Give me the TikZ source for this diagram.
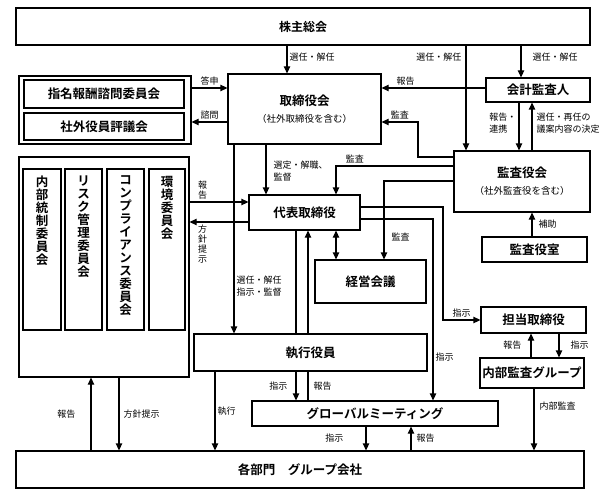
\documentclass[tikz,border=0pt]{standalone}
\usepackage{fontspec}
\setmainfont{Noto Sans CJK JP}[BoldFont={Noto Sans CJK JP Bold}]
\usetikzlibrary{arrows.meta}

\begin{document}
\begin{tikzpicture}[
            x=1pt, y=-1pt,
            box/.style={draw=black, line width=1.3pt, fill=white, inner sep=0pt, align=center, font=\fontsize{12.5}{14}\selectfont\bfseries},
            vtext/.style={inner sep=0pt, align=center, font=\fontsize{12.5}{13}\selectfont\bfseries},
            arr/.style={-{Triangle[length=7pt, width=6.5pt]}, line width=1.3pt},
            darr/.style={{Triangle[length=7pt, width=6.5pt]}-{Triangle[length=7pt, width=6.5pt]}, line width=1.3pt},
            ln/.style={line width=1.3pt},
            lbl/.style={inner sep=2pt, align=left, font=\fontsize{9}{12}\selectfont},
            vlbl/.style={inner sep=2pt, align=center, font=\fontsize{9}{10}\selectfont},
        ]
            \useasboundingbox (0,0) rectangle (606,495);
            \node[box, minimum width=574pt, minimum height=37pt] (kabu) at (303,26.5) {\fontsize{12}{14}\selectfont 株主総会};
            \node[box, minimum width=172pt, minimum height=68pt] (shimeiG) at (105,110) {};
            \node[box, minimum width=160pt, minimum height=28pt] (shimei) at (104,94) {指名報酬諮問委員会};
            \node[box, minimum width=160pt, minimum height=27pt] (shagai) at (104,126.5) {社外役員評議会};
            \node[box, minimum width=153pt, minimum height=70pt] (tori) at (304.5,109) {取締役会\\[3pt]{\fontsize{9.5}{11}\selectfont\mdseries （社外取締役を含む）}};
            \node[box, minimum width=104pt, minimum height=24pt] (kaikei) at (538,90) {会計監査人};
            \node[box, minimum width=136pt, minimum height=61pt] (kansa) at (522,181.5) {監査役会\\[3pt]{\fontsize{9.5}{11}\selectfont\mdseries （社外監査役を含む）}};
            \node[box, minimum width=105pt, minimum height=25pt] (shitsu) at (534.5,249.5) {監査役室};
            \node[box, minimum width=170pt, minimum height=220pt] (iin) at (104,267) {};
            \node[box, minimum width=38pt, minimum height=161pt] (naitou) at (42,249.5) {};
            \node[box, minimum width=37pt, minimum height=161pt] (risk) at (83.5,249.5) {};
            \node[box, minimum width=37pt, minimum height=161pt] (comp) at (125.5,249.5) {};
            \node[box, minimum width=36pt, minimum height=161pt] (kankyo) at (167,249.5) {};
            \node[vtext, anchor=north] (naitouT) at ([yshift=-7.5pt]naitou.north) {内\\部\\統\\制\\委\\員\\会};
            \node[vtext, anchor=north] (riskT) at ([yshift=-7.5pt]risk.north) {リ\\ス\\ク\\管\\理\\委\\員\\会};
            \node[vtext, anchor=north] (compT) at ([yshift=-7.5pt]comp.north) {コ\\ン\\プ\\ラ\\イ\\ア\\ン\\ス\\委\\員\\会};
            \node[vtext, anchor=north] (kankyoT) at ([yshift=-7.5pt]kankyo.north) {環\\境\\委\\員\\会};
            \node[box, minimum width=111pt, minimum height=35pt] (daihyo) at (304.5,212.5) {代表取締役};
            \node[box, minimum width=111pt, minimum height=43pt] (keiei) at (370.5,281.5) {経営会議};
            \node[box, minimum width=105pt, minimum height=26pt] (tanto) at (533.5,320) {担当取締役};
            \node[box, minimum width=233pt, minimum height=37pt] (shikko) at (310.5,352.5) {執行役員};
            \node[box, minimum width=104pt, minimum height=30pt] (naibu) at (532,373) {内部監査グループ};
            \node[box, minimum width=246pt, minimum height=25pt] (global) at (375,413.5) {グローバルミーティング};
            \node[box, minimum width=568pt, minimum height=37pt] (kakubu) at (300,469.5) {各部門　グループ会社};

            \coordinate (sTori) at (287,0);
            \coordinate (sKansa) at (466,0);
            \coordinate (sKaikei) at (521,0);
            \coordinate (kaikeiDn) at (519,0);
            \coordinate (kaikeiUp) at (532,0);
            \coordinate (toriShikko) at (234,0);
            \coordinate (toriDaihyo) at (266,0);
            \coordinate (daihyoKeiei) at (336,0);
            \coordinate (kansaKeiei) at (384,0);
            \coordinate (kansaTori) at (418,0);
            \coordinate (daihyoTanto) at (443,0);
            \coordinate (daihyoGlobal) at (433,0);
            \coordinate (shiji) at (296,0);
            \coordinate (hokoku) at (308,0);
            \coordinate (shikkoDn) at (215,0);
            \coordinate (iinDn) at (119,0);
            \coordinate (iinUp) at (91,0);
            \coordinate (globalDn) at (366,0);
            \coordinate (globalUp) at (411,0);
            \coordinate (naibuUp) at (531,0);
            \coordinate (tantoDn) at (559,0);
            \coordinate (naibuDn) at (534,0);
            \coordinate (rToshin) at (0,88);
            \coordinate (rShimon) at (0,122);
            \coordinate (rKansa1) at (0,157);
            \coordinate (rKansa2) at (0,166);
            \coordinate (rKansa3) at (0,181);
            \coordinate (rHokoku) at (0,202);
            \coordinate (rHoshin) at (0,222);
            \coordinate (rTanto) at (0,207);
            \coordinate (rGlobal) at (0,219);

            \draw[arr] (kabu.south -| sTori) -- node[lbl, right, pos=.41] {選任・解任} (tori.north -| sTori);
            \draw[arr] (kabu.south -| sKansa) -- node[lbl, left, pos=.11, xshift=-2pt] {選任・解任} (kansa.north -| sKansa);
            \draw[arr] (kabu.south -| sKaikei) -- node[lbl, right, pos=.36, xshift=9pt] {選任・解任} (kaikei.north -| sKaikei);
            \draw[arr] (kaikei.south -| kaikeiDn) -- node[lbl, left, pos=.43] {報告・\\連携} (kansa.north -| kaikeiDn);
            \draw[arr] (kansa.north -| kaikeiUp) -- node[lbl, right, pos=.57, xshift=2pt] {選任・再任の\\議案内容の決定} (kaikei.south -| kaikeiUp);
            \draw[arr] (shitsu.north -| kaikeiUp) -- node[lbl, right, xshift=4pt] {補助} (kansa.south -| kaikeiUp);
            \draw[arr] (kaikei.west |- rToshin) -- node[lbl, above, pos=.77] {報告} (tori.east |- rToshin);
            \draw[arr] (kansa.west |- rKansa1) -| (kansaTori |- rShimon) -- node[lbl, above] {監査} (tori.east |- rShimon);
            \draw[arr] (shimeiG.east |- rToshin) -- node[lbl, above] {答申} (tori.west |- rToshin);
            \draw[arr] (tori.west |- rShimon) -- node[lbl, above] {諮問} (shimeiG.east |- rShimon);
            \draw[arr] (tori.south -| toriShikko) -- node[lbl, right, pos=.75] {選任・解任\\指示・監督} (shikko.north -| toriShikko);
            \draw[arr] (tori.south -| toriDaihyo) -- node[lbl, right, pos=.53, xshift=5pt] {選定・解職、\\監督} (daihyo.north -| toriDaihyo);
            \draw[arr] (kansa.west |- rKansa2) -| node[lbl, above, pos=.42] {監査} (daihyo.north -| daihyoKeiei);
            \draw[darr] (daihyo.south -| daihyoKeiei) -- (keiei.north -| daihyoKeiei);
            \draw[arr] (kansa.west |- rKansa3) -| node[lbl, right, pos=.86, xshift=5pt] {監査} (keiei.north -| kansaKeiei);
            \draw[arr] (iin.east |- rHokoku) -- node[vlbl, above, pos=.22] {報\\告} (daihyo.west |- rHokoku);
            \draw[arr] (daihyo.west |- rHoshin) -- node[vlbl, below, pos=.78] {方\\針\\提\\示} (iin.east |- rHoshin);
            \draw[arr] (daihyo.east |- rTanto) -| (daihyoTanto |- tanto.west) -- node[lbl, above] {指示} (tanto.west);
            \draw[arr] (daihyo.east |- rGlobal) -| node[lbl, right, pos=.88] {指示} (global.north -| daihyoGlobal);
            \draw[ln] (daihyo.south -| shiji) -- (shikko.north -| shiji);
            \draw[arr] (shikko.south -| shiji) -- node[lbl, left, xshift=-6pt] {指示} (global.north -| shiji);
            \draw[ln] (global.north -| hokoku) -- node[lbl, right, xshift=3pt] {報告} (shikko.south -| hokoku);
            \draw[arr] (shikko.north -| hokoku) -- (daihyo.south -| hokoku);
            \draw[arr] (shikko.south -| shikkoDn) -- node[lbl, right] {執行} (kakubu.north -| shikkoDn);
            \draw[arr] (iin.south -| iinDn) -- node[lbl, right, xshift=2pt] {方針提示} (kakubu.north -| iinDn);
            \draw[arr] (kakubu.north -| iinUp) -- node[lbl, left, xshift=-13pt] {報告} (iin.south -| iinUp);
            \draw[arr] (global.south -| globalDn) -- node[lbl, left, xshift=-20pt] {指示} (kakubu.north -| globalDn);
            \draw[arr] (kakubu.north -| globalUp) -- node[lbl, right, xshift=3pt] {報告} (global.south -| globalUp);
            \draw[arr] (naibu.north -| naibuUp) -- node[lbl, left, xshift=-7pt] {報告} (tanto.south -| naibuUp);
            \draw[arr] (tanto.south -| tantoDn) -- node[lbl, right, xshift=9pt] {指示} (naibu.north -| tantoDn);
            \draw[arr] (naibu.south -| naibuDn) -- node[lbl, right, pos=.29, xshift=3pt] {内部監査} (kakubu.north -| naibuDn);
\end{tikzpicture}
\end{document}
